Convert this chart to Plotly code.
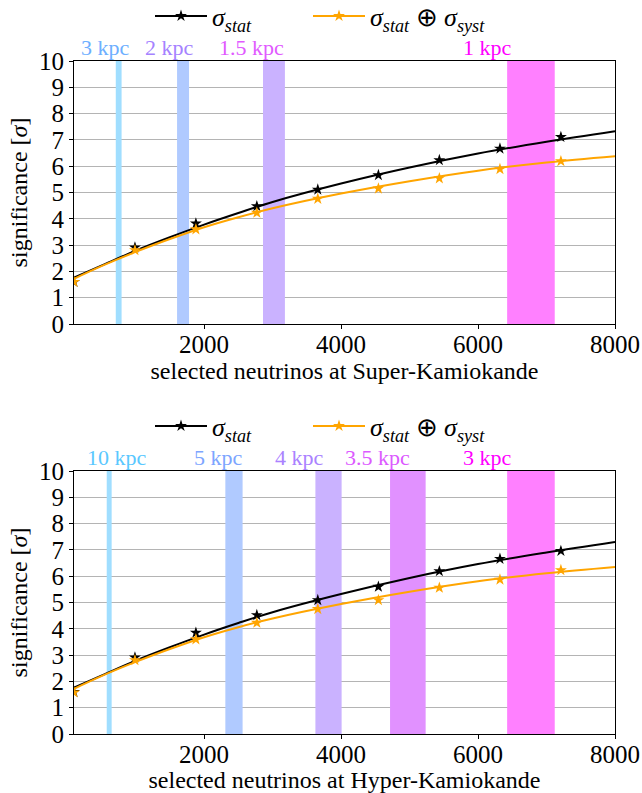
import plotly.graph_objects as go

# ---------------- data ----------------
# fitted curves
curve_x = [100, 500, 1000, 1500, 2000, 2500, 3000, 4000, 5000, 6000, 7000, 8000]
sk_curve_stat = [1.76, 2.22, 2.79, 3.30, 3.78, 4.22, 4.64, 5.34, 5.95, 6.48, 6.93, 7.33]
sk_curve_syst = [1.72, 2.20, 2.74, 3.23, 3.68, 4.06, 4.40, 4.96, 5.43, 5.83, 6.14, 6.38]
hk_curve_stat = [1.76, 2.22, 2.79, 3.30, 3.78, 4.22, 4.63, 5.32, 5.93, 6.46, 6.90, 7.30]
hk_curve_syst = [1.72, 2.20, 2.74, 3.23, 3.68, 4.06, 4.39, 4.94, 5.41, 5.81, 6.11, 6.35]

# simulated points
pts_x = [100, 990, 1880, 2770, 3660, 4545, 5435, 6320, 7210]
sk_pts_stat = [1.60, 2.91, 3.82, 4.48, 5.11, 5.66, 6.23, 6.67, 7.11]
sk_pts_syst = [1.60, 2.81, 3.60, 4.23, 4.76, 5.15, 5.54, 5.89, 6.19]
hk_pts_stat = [1.60, 2.91, 3.85, 4.52, 5.09, 5.60, 6.19, 6.66, 6.96]
hk_pts_syst = [1.58, 2.81, 3.60, 4.23, 4.75, 5.09, 5.56, 5.87, 6.23]

# distance bands (x ranges of selected neutrinos)
sk_band_labels = ["3 kpc", "2 kpc", "1.5 kpc", "1 kpc"]
sk_band_lo = [710, 1605, 2860, 6425]
sk_band_hi = [795, 1780, 3180, 7120]
hk_band_labels = ["10 kpc", "5 kpc", "4 kpc", "3.5 kpc", "3 kpc"]
hk_band_lo = [578, 2310, 3625, 4715, 6425]
hk_band_hi = [650, 2562, 4008, 5235, 7120]

x_ticks = [2000, 4000, 6000, 8000]
y_ticks = list(range(0, 11))

# ---------------- styles ----------------
sk_band_colors = ["rgb(160,222,255)", "rgb(176,202,255)", "rgb(202,178,255)", "rgb(255,128,255)"]
sk_label_colors = ["rgb(110,175,255)", "rgb(165,130,255)", "rgb(225,90,255)", "rgb(255,0,255)"]
sk_label_pos = [567, 1495, 2685, 6131]
hk_band_colors = ["rgb(160,222,255)", "rgb(176,202,255)", "rgb(202,178,255)", "rgb(225,145,255)", "rgb(255,128,255)"]
hk_label_colors = ["rgb(90,200,255)", "rgb(125,165,255)", "rgb(170,130,255)", "rgb(220,90,255)", "rgb(255,0,255)"]
hk_label_pos = [723, 2217, 3386, 4525, 6131]

FONT = "Liberation Serif"
W, H = 642, 793
ML, MR, MT, MB = 74, 27, 61, 59
PW = W - ML - MR
PH = H - MT - MB
BLACK = "black"
ORANGE = "#ffa500"

fig = go.Figure()

panels = [
    dict(xa="x", ya="y", curve_stat=sk_curve_stat, curve_syst=sk_curve_syst,
         pts_stat=sk_pts_stat, pts_syst=sk_pts_syst, legends=("legend", "legend2"),
         labels=sk_band_labels, lo=sk_band_lo, hi=sk_band_hi,
         bcol=sk_band_colors, lcol=sk_label_colors, lpos=sk_label_pos),
    dict(xa="x2", ya="y2", curve_stat=hk_curve_stat, curve_syst=hk_curve_syst,
         pts_stat=hk_pts_stat, pts_syst=hk_pts_syst, legends=("legend3", "legend4"),
         labels=hk_band_labels, lo=hk_band_lo, hi=hk_band_hi,
         bcol=hk_band_colors, lcol=hk_label_colors, lpos=hk_label_pos),
]

for p in panels:
    # bands
    for lab, lo, hi, bc, lc, lp in zip(p["labels"], p["lo"], p["hi"], p["bcol"], p["lcol"], p["lpos"]):
        fig.add_trace(go.Scatter(x=[lo, hi, hi, lo, lo], y=[0, 0, 10, 10, 0], mode="lines",
                                 fill="toself", fillcolor=bc, line=dict(width=0, color=bc),
                                 xaxis=p["xa"], yaxis=p["ya"], showlegend=False, hoverinfo="skip"))
        fig.add_annotation(x=lp, xref=p["xa"], y=1.0, yref=p["ya"] + " domain", yanchor="bottom",
                           text=lab, showarrow=False, font=dict(family=FONT, size=22, color=lc), yshift=-1)
    for name, curve, pts, col, leg in [
        ("<i>σ<sub>stat</sub></i>", p["curve_stat"], p["pts_stat"], BLACK, p["legends"][0]),
        ("<i>σ<sub>stat</sub></i> ⊕ <i>σ<sub>syst</sub></i>", p["curve_syst"], p["pts_syst"], ORANGE, p["legends"][1]),
    ]:
        fig.add_trace(go.Scatter(x=curve_x, y=curve, mode="lines", line=dict(color=col, width=2, shape="spline"),
                                 xaxis=p["xa"], yaxis=p["ya"], showlegend=False, hoverinfo="skip"))
        fig.add_trace(go.Scatter(x=pts_x, y=pts, mode="markers",
                                 marker=dict(symbol="star", size=9, color=col, line=dict(width=0)),
                                 xaxis=p["xa"], yaxis=p["ya"], showlegend=False))
        fig.add_trace(go.Scatter(x=[None], y=[None], mode="lines+markers", name=name,
                                 line=dict(color=col, width=2),
                                 marker=dict(symbol="star", size=9, color=col),
                                 xaxis=p["xa"], yaxis=p["ya"], legend=leg))

ax_common = dict(range=[100, 8000], tickvals=x_ticks, ticks="outside", ticklen=4, tickcolor=BLACK,
                 showline=True, linecolor=BLACK, linewidth=1, mirror=True, showgrid=False, zeroline=False,
                 automargin=False, ticklabelstandoff=-6, tickfont=dict(family=FONT, size=25, color=BLACK))
ay_common = dict(range=[0, 10], tickvals=y_ticks, ticks="outside", ticklen=4, tickcolor=BLACK,
                 showline=True, linecolor=BLACK, linewidth=1, mirror=True, showgrid=True,
                 gridcolor="#b4b4b4", gridwidth=1, zeroline=False, automargin=False,
                 tickfont=dict(family=FONT, size=25, color=BLACK))

top_dom = [(H - MB - 324) / PH, 1.0]
bot_dom = [0.0, (H - MB - 471) / PH]

leg_common = dict(orientation="h", xanchor="left", yanchor="middle", itemwidth=52,
                  font=dict(family=FONT, size=26, color=BLACK), bgcolor="rgba(0,0,0,0)")


def px_x(px):
    return (px - ML) / PW


def px_y(py):
    return (H - MB - py) / PH


fig.update_layout(
    width=W, height=H,
    margin=dict(l=ML, r=MR, t=MT, b=MB, autoexpand=False),
    paper_bgcolor="white", plot_bgcolor="white",
    font=dict(family=FONT, color=BLACK),
    xaxis=dict(ax_common, domain=[0, 1], anchor="y",
               title=dict(text="selected neutrinos at Super-Kamiokande", font=dict(family=FONT, size=24), standoff=0)),
    yaxis=dict(ay_common, domain=top_dom, anchor="x",
               title=dict(text="significance [<i>σ</i>]", font=dict(family=FONT, size=24), standoff=4)),
    xaxis2=dict(ax_common, domain=[0, 1], anchor="y2",
                title=dict(text="selected neutrinos at Hyper-Kamiokande", font=dict(family=FONT, size=24), standoff=0)),
    yaxis2=dict(ay_common, domain=bot_dom, anchor="x2",
                title=dict(text="significance [<i>σ</i>]", font=dict(family=FONT, size=24), standoff=4)),
    legend=dict(leg_common, x=px_x(150), y=px_y(16)),
    legend2=dict(leg_common, x=px_x(308), y=px_y(16)),
    legend3=dict(leg_common, x=px_x(150), y=px_y(426)),
    legend4=dict(leg_common, x=px_x(308), y=px_y(426)),
    showlegend=True,
)

fig.write_html("out.html", config={"displayModeBar": False},
               post_script="document.body.style.margin='0px';document.body.style.padding='0px';")
